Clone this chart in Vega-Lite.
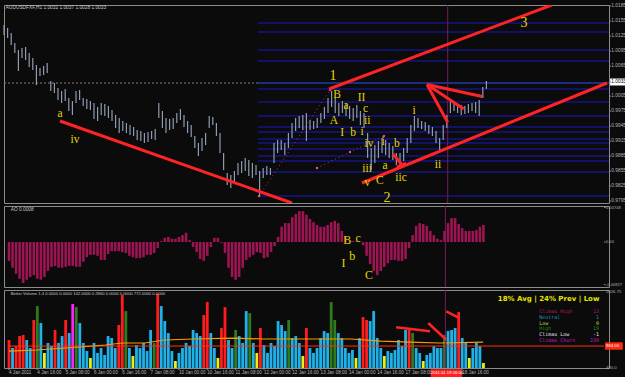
{
"$schema":"https://vega.github.io/schema/vega-lite/v6.json",
"background":"#0b0b0b",
"padding":{"left":2,"top":2,"right":0,"bottom":0},
"bounds":"flush",
"spacing":3,
"config":{"view":{"stroke":"#8c8c8c","strokeWidth":1}},
"datasets":{
"b":[
{"i":0,"h":1.0147,"l":1.0127,"a":-0.0041,"v":1056,"c":"ch"},
{"i":2,"h":1.0141,"l":1.0121,"a":-0.0056,"v":894,"c":"n"},
{"i":4,"h":1.0131,"l":1.0107,"a":-0.0069,"v":934,"c":"ch"},
{"i":6,"h":1.0111,"l":1.0091,"a":-0.0080,"v":1136,"c":"ch"},
{"i":8,"h":1.0097,"l":1.0055,"a":-0.0089,"v":1157,"c":"ch"},
{"i":10,"h":1.0101,"l":1.0081,"a":-0.0082,"v":1056,"c":"n"},
{"i":12,"h":1.0103,"l":1.0077,"a":-0.0076,"v":894,"c":"n"},
{"i":14,"h":1.0091,"l":1.0063,"a":-0.0072,"v":1460,"c":"ch"},
{"i":16,"h":1.0081,"l":1.0057,"a":-0.0080,"v":1742,"c":"hi"},
{"i":18,"h":1.0067,"l":1.0027,"a":-0.0082,"v":1399,"c":"n"},
{"i":20,"h":1.0061,"l":1.0045,"a":-0.0076,"v":793,"c":"lo"},
{"i":22,"h":1.0065,"l":1.0047,"a":-0.0063,"v":995,"c":"n"},
{"i":24,"h":1.0071,"l":1.0051,"a":-0.0054,"v":934,"c":"n"},
{"i":26,"h":1.0035,"l":1.0015,"a":-0.0052,"v":1258,"c":"ch"},
{"i":28,"h":1.0031,"l":1.0011,"a":-0.0056,"v":995,"c":"n"},
{"i":30,"h":1.0021,"l":0.9997,"a":-0.0056,"v":1136,"c":"n"},
{"i":32,"h":1.0015,"l":0.9991,"a":-0.0054,"v":1460,"c":"ch"},
{"i":34,"h":1.0019,"l":0.9995,"a":-0.0052,"v":1197,"c":"n"},
{"i":36,"h":1.0001,"l":0.9975,"a":-0.0052,"v":1783,"c":"cc"},
{"i":38,"h":0.9995,"l":0.9967,"a":-0.0054,"v":1722,"c":"hi"},
{"i":40,"h":1.0015,"l":0.9991,"a":-0.0054,"v":1399,"c":"n"},
{"i":42,"h":1.0017,"l":0.9997,"a":-0.0043,"v":995,"c":"n"},
{"i":44,"h":1.0001,"l":0.9985,"a":-0.0033,"v":833,"c":"n"},
{"i":46,"h":0.9999,"l":0.9979,"a":-0.0028,"v":692,"c":"lo"},
{"i":48,"h":0.9995,"l":0.9977,"a":-0.0028,"v":995,"c":"n"},
{"i":50,"h":0.9991,"l":0.9959,"a":-0.0030,"v":793,"c":"n"},
{"i":52,"h":0.9983,"l":0.9955,"a":-0.0039,"v":894,"c":"n"},
{"i":54,"h":0.9991,"l":0.9967,"a":-0.0039,"v":753,"c":"n"},
{"i":56,"h":0.9989,"l":0.9965,"a":-0.0026,"v":1136,"c":"n"},
{"i":58,"h":0.9985,"l":0.9961,"a":-0.0020,"v":1096,"c":"n"},
{"i":60,"h":0.9977,"l":0.9955,"a":-0.0020,"v":894,"c":"n"},
{"i":62,"h":0.9967,"l":0.9941,"a":-0.0020,"v":1359,"c":"ch"},
{"i":64,"h":0.9961,"l":0.9931,"a":-0.0022,"v":1965,"c":"ch"},
{"i":66,"h":0.9955,"l":0.9935,"a":-0.0024,"v":1641,"c":"hi"},
{"i":68,"h":0.9951,"l":0.9931,"a":-0.0030,"v":894,"c":"n"},
{"i":70,"h":0.9947,"l":0.9927,"a":-0.0033,"v":732,"c":"lo"},
{"i":72,"h":0.9943,"l":0.9925,"a":-0.0035,"v":955,"c":"n"},
{"i":74,"h":0.9937,"l":0.9917,"a":-0.0035,"v":894,"c":"n"},
{"i":76,"h":0.9935,"l":0.9915,"a":-0.0033,"v":995,"c":"n"},
{"i":78,"h":0.9931,"l":0.9911,"a":-0.0028,"v":833,"c":"n"},
{"i":80,"h":0.9933,"l":0.9913,"a":-0.0028,"v":1258,"c":"n"},
{"i":82,"h":0.9935,"l":0.9919,"a":-0.0024,"v":995,"c":"hi"},
{"i":84,"h":0.9939,"l":0.9917,"a":-0.0013,"v":1985,"c":"ch"},
{"i":86,"h":0.9991,"l":0.9961,"a":0.0002,"v":1742,"c":"n"},
{"i":88,"h":0.9975,"l":0.9941,"a":0.0009,"v":1439,"c":"n"},
{"i":90,"h":0.9961,"l":0.9931,"a":0.0011,"v":1197,"c":"n"},
{"i":92,"h":0.9959,"l":0.9937,"a":0.0007,"v":833,"c":"n"},
{"i":94,"h":0.9961,"l":0.9939,"a":0.0007,"v":631,"c":"lo"},
{"i":96,"h":0.9971,"l":0.9951,"a":0.0011,"v":793,"c":"n"},
{"i":98,"h":0.9979,"l":0.9957,"a":0.0015,"v":894,"c":"n"},
{"i":100,"h":0.9967,"l":0.9943,"a":0.0020,"v":995,"c":"n"},
{"i":102,"h":0.9955,"l":0.9931,"a":0.0004,"v":934,"c":"n"},
{"i":104,"h":0.9947,"l":0.9923,"a":-0.0011,"v":1258,"c":"n"},
{"i":106,"h":0.9925,"l":0.9901,"a":-0.0022,"v":1197,"c":"n"},
{"i":108,"h":0.9911,"l":0.9885,"a":-0.0037,"v":1136,"c":"n"},
{"i":110,"h":0.9921,"l":0.9895,"a":-0.0041,"v":1561,"c":"ch"},
{"i":112,"h":0.9931,"l":0.9907,"a":-0.0030,"v":1823,"c":"ch"},
{"i":114,"h":0.9965,"l":0.9941,"a":-0.0011,"v":1197,"c":"n"},
{"i":116,"h":0.9963,"l":0.9947,"a":0.0009,"v":894,"c":"n"},
{"i":118,"h":0.9951,"l":0.9925,"a":0.0009,"v":692,"c":"lo"},
{"i":120,"h":0.9931,"l":0.9891,"a":-0.0002,"v":1298,"c":"ch"},
{"i":122,"h":0.9891,"l":0.9857,"a":-0.0024,"v":1722,"c":"ch"},
{"i":124,"h":0.9851,"l":0.9827,"a":-0.0056,"v":1056,"c":"n"},
{"i":126,"h":0.9847,"l":0.9821,"a":-0.0076,"v":894,"c":"n"},
{"i":128,"h":0.9855,"l":0.9831,"a":-0.0082,"v":1258,"c":"hi"},
{"i":130,"h":0.9871,"l":0.9847,"a":-0.0076,"v":1136,"c":"n"},
{"i":132,"h":0.9875,"l":0.9851,"a":-0.0056,"v":995,"c":"n"},
{"i":134,"h":0.9881,"l":0.9855,"a":-0.0039,"v":1641,"c":"n"},
{"i":136,"h":0.9877,"l":0.9845,"a":-0.0033,"v":1601,"c":"hi"},
{"i":138,"h":0.9871,"l":0.9841,"a":-0.0028,"v":995,"c":"n"},
{"i":140,"h":0.9867,"l":0.9847,"a":-0.0022,"v":793,"c":"lo"},
{"i":142,"h":0.9855,"l":0.9805,"a":-0.0024,"v":1298,"c":"ch"},
{"i":144,"h":0.9861,"l":0.9841,"a":-0.0035,"v":955,"c":"n"},
{"i":146,"h":0.9865,"l":0.9847,"a":-0.0033,"v":793,"c":"n"},
{"i":148,"h":0.9861,"l":0.9847,"a":-0.0022,"v":995,"c":"n"},
{"i":150,"h":0.9911,"l":0.9871,"a":-0.0009,"v":934,"c":"n"},
{"i":152,"h":0.9917,"l":0.9891,"a":0.0011,"v":1439,"c":"n"},
{"i":154,"h":0.9917,"l":0.9897,"a":0.0033,"v":1359,"c":"n"},
{"i":156,"h":0.9911,"l":0.9887,"a":0.0041,"v":1237,"c":"n"},
{"i":158,"h":0.9931,"l":0.9901,"a":0.0041,"v":1460,"c":"hi"},
{"i":160,"h":0.9951,"l":0.9921,"a":0.0054,"v":1096,"c":"n"},
{"i":162,"h":0.9961,"l":0.9935,"a":0.0061,"v":1136,"c":"n"},
{"i":164,"h":0.9965,"l":0.9941,"a":0.0067,"v":995,"c":"n"},
{"i":166,"h":0.9967,"l":0.9937,"a":0.0067,"v":732,"c":"lo"},
{"i":168,"h":0.9971,"l":0.9915,"a":0.0059,"v":1298,"c":"ch"},
{"i":170,"h":0.9957,"l":0.9937,"a":0.0050,"v":894,"c":"n"},
{"i":172,"h":0.9955,"l":0.9939,"a":0.0043,"v":793,"c":"n"},
{"i":174,"h":0.9961,"l":0.9941,"a":0.0037,"v":894,"c":"n"},
{"i":176,"h":0.9971,"l":0.9951,"a":0.0033,"v":1096,"c":"n"},
{"i":178,"h":0.9983,"l":0.9959,"a":0.0033,"v":1237,"c":"n"},
{"i":180,"h":1.0001,"l":0.9971,"a":0.0037,"v":1197,"c":"n"},
{"i":182,"h":1.0015,"l":0.9983,"a":0.0043,"v":1823,"c":"hi"},
{"i":184,"h":1.0001,"l":0.9971,"a":0.0046,"v":1460,"c":"hi"},
{"i":186,"h":0.9991,"l":0.9965,"a":0.0041,"v":1197,"c":"n"},
{"i":188,"h":0.9995,"l":0.9971,"a":0.0024,"v":1096,"c":"n"},
{"i":190,"h":0.9991,"l":0.9965,"a":0.0011,"v":894,"c":"n"},
{"i":192,"h":0.9985,"l":0.9959,"a":0.0000,"v":793,"c":"n"},
{"i":194,"h":0.9981,"l":0.9955,"a":0.0002,"v":854,"c":"n"},
{"i":196,"h":0.9987,"l":0.9961,"a":0.0002,"v":692,"c":"lo"},
{"i":198,"h":0.9975,"l":0.9947,"a":0.0000,"v":1096,"c":"n"},
{"i":200,"h":0.9971,"l":0.9941,"a":-0.0007,"v":1520,"c":"ch"},
{"i":202,"h":0.9931,"l":0.9881,"a":-0.0030,"v":1460,"c":"ch"},
{"i":204,"h":0.9901,"l":0.9857,"a":-0.0048,"v":1439,"c":"n"},
{"i":206,"h":0.9907,"l":0.9871,"a":-0.0063,"v":1641,"c":"n"},
{"i":208,"h":0.9915,"l":0.9881,"a":-0.0072,"v":1096,"c":"n"},
{"i":210,"h":0.9921,"l":0.9891,"a":-0.0063,"v":894,"c":"n"},
{"i":212,"h":0.9917,"l":0.9887,"a":-0.0054,"v":732,"c":"lo"},
{"i":214,"h":0.9911,"l":0.9881,"a":-0.0046,"v":833,"c":"n"},
{"i":216,"h":0.9905,"l":0.9877,"a":-0.0039,"v":793,"c":"n"},
{"i":218,"h":0.9891,"l":0.9867,"a":-0.0039,"v":854,"c":"n"},
{"i":220,"h":0.9891,"l":0.9863,"a":-0.0041,"v":1056,"c":"n"},
{"i":222,"h":0.9901,"l":0.9875,"a":-0.0041,"v":934,"c":"n"},
{"i":224,"h":0.9921,"l":0.9891,"a":-0.0037,"v":1258,"c":"n"},
{"i":226,"h":0.9947,"l":0.9911,"a":-0.0013,"v":1258,"c":"ch"},
{"i":228,"h":0.9965,"l":0.9935,"a":0.0015,"v":1197,"c":"hi"},
{"i":230,"h":0.9961,"l":0.9941,"a":0.0035,"v":894,"c":"n"},
{"i":232,"h":0.9955,"l":0.9939,"a":0.0041,"v":793,"c":"n"},
{"i":234,"h":0.9953,"l":0.9935,"a":0.0039,"v":631,"c":"lo"},
{"i":236,"h":0.9947,"l":0.9929,"a":0.0035,"v":753,"c":"n"},
{"i":238,"h":0.9943,"l":0.9925,"a":0.0024,"v":793,"c":"n"},
{"i":240,"h":0.9935,"l":0.9911,"a":0.0015,"v":934,"c":"n"},
{"i":242,"h":0.9921,"l":0.9895,"a":0.0007,"v":894,"c":"n"},
{"i":244,"h":0.9947,"l":0.9917,"a":0.0004,"v":894,"c":"n"},
{"i":246,"h":0.9967,"l":0.9941,"a":0.0024,"v":1157,"c":"hi"},
{"i":248,"h":0.9997,"l":0.9971,"a":0.0041,"v":1237,"c":"n"},
{"i":250,"h":0.9993,"l":0.9975,"a":0.0052,"v":1258,"c":"n"},
{"i":252,"h":0.9989,"l":0.9971,"a":0.0052,"v":1298,"c":"n"},
{"i":254,"h":0.9987,"l":0.9967,"a":0.0039,"v":1621,"c":"ch"},
{"i":256,"h":0.9985,"l":0.9969,"a":0.0030,"v":1096,"c":"n"},
{"i":258,"h":0.9989,"l":0.9971,"a":0.0024,"v":995,"c":"n"},
{"i":260,"h":0.9991,"l":0.9975,"a":0.0024,"v":692,"c":"lo"},
{"i":262,"h":0.9993,"l":0.9971,"a":0.0024,"v":894,"c":"n"},
{"i":264,"h":0.9997,"l":0.9965,"a":0.0026,"v":995,"c":"n"},
{"i":266,"h":1.0023,"l":1.0001,"a":0.0033,"v":934,"c":"n"},
{"i":268,"h":1.0035,"l":1.0019,"a":0.0037,"v":591,"c":"lo"}
],
"fib":[{"p":1.0151},{"p":1.0133},{"p":1.0097},{"p":1.0075},{"p":1.0019},{"p":0.9993},{"p":0.9965},{"p":0.9943},{"p":0.9933},{"p":0.9919},{"p":0.9911},{"p":0.9899},{"p":0.9885},{"p":0.9875},{"p":0.9853},{"p":0.9805}],
"tl":[
{"g":"t1","i":31.1,"p":0.9955},{"g":"t1","i":160,"p":0.9791},
{"g":"t2","i":180.6,"p":1.0019},{"g":"t2","i":304.3,"p":1.0187},
{"g":"t3","i":198.9,"p":0.9831},{"g":"t3","i":335,"p":1.0031},
{"g":"f1","i":235,"p":1.0028},{"g":"f1","i":246.5,"p":0.9952},
{"g":"f2","i":235,"p":1.0028},{"g":"f2","i":255.4,"p":0.9979},
{"g":"f3","i":235,"p":1.0028},{"g":"f3","i":265.6,"p":1.0004},
{"g":"a1","i":216.1,"p":0.9889},{"g":"a1","i":221.7,"p":0.9865},
{"g":"a2","i":218.3,"p":0.9863},{"g":"a2","i":223.3,"p":0.9871}
],
"zz":[
{"g":"z1","i":141.7,"p":0.9805},{"g":"z1","i":181.1,"p":1.0017},
{"g":"z2","i":173.9,"p":0.9861},{"g":"z2","i":192.2,"p":0.9893},{"g":"z2","i":211.1,"p":0.9925}
],
"lab":[
{"t":"a","i":31.1,"p":0.9969},{"t":"iv","i":39.4,"p":0.9917},
{"t":"B","i":185,"p":1.0007},{"t":"a","i":190,"p":0.9985},{"t":"II","i":198.6,"p":1.0001},{"t":"c","i":200.8,"p":0.9980},{"t":"ii","i":201.8,"p":0.9956},
{"t":"A","i":183.3,"p":0.9955},{"t":"I","i":187.8,"p":0.9931},{"t":"b","i":193.9,"p":0.9931},{"t":"i","i":198.9,"p":0.9933},
{"t":"i","i":227.8,"p":0.9975},{"t":"i","i":210.6,"p":0.9913},{"t":"iv","i":202.8,"p":0.9909},{"t":"b","i":218.3,"p":0.9909},
{"t":"a","i":211.7,"p":0.9865},{"t":"iii","i":201.7,"p":0.9859},{"t":"v","i":201.8,"p":0.9831},{"t":"C","i":208.8,"p":0.9835},
{"t":"iic","i":220.6,"p":0.9841},{"t":"ii","i":241.1,"p":0.9867}
],
"num":[{"t":"1","i":182.8,"p":1.0045},{"t":"2","i":212.8,"p":0.9801},{"t":"3","i":288.9,"p":1.0151}],
"aol":[{"t":"B","i":191.1,"a":0.0004},{"t":"c","i":197.2,"a":0.0008},{"t":"b","i":193.9,"a":-0.0030},{"t":"I","i":188.9,"a":-0.0046},{"t":"C","i":203.3,"a":-0.0072}],
"ma":[{"i":0,"m":833},{"i":15.6,"m":854},{"i":32.2,"m":894},{"i":54.4,"m":955},{"i":63.9,"m":995},{"i":76.7,"m":995},{"i":87.8,"m":1056},{"i":104.4,"m":1076},{"i":126.7,"m":1096},{"i":143.3,"m":1076},{"i":176.7,"m":1076},{"i":193.3,"m":1076},{"i":210,"m":1035},{"i":226.7,"m":1015},{"i":243.3,"m":995},{"i":267.8,"m":1015}],
"vl":[
{"g":"v1","i":218.7,"v":1312},{"g":"v1","i":237.8,"v":1231},
{"g":"v2","i":236.8,"v":1399},{"g":"v2","i":247,"v":1062},
{"g":"v3","i":247,"v":1635},{"g":"v3","i":254.4,"v":1500}
],
"leg":[
{"t":"Climax High","n":"13","v":1641},
{"t":"Neutral","n":"1","v":1520},
{"t":"Low","n":"0","v":1399},
{"t":"High","n":"19","v":1298},
{"t":"Climax Low","n":"-1","v":1177},
{"t":"Climax Churn","n":"230","v":1056}
],
"py":[{"p":0.9795,"t":"0.9795"},{"p":0.9825,"t":"0.9825"},{"p":0.9855,"t":"0.9855"},{"p":0.9885,"t":"0.9885"},{"p":0.9915,"t":"0.9915"},{"p":0.9945,"t":"0.9945"},{"p":0.9975,"t":"0.9975"},{"p":1.0005,"t":"1.0005"},{"p":1.0033,"t":"1.0033"},{"p":1.0065,"t":"1.0065"},{"p":1.0095,"t":"1.0095"},{"p":1.0125,"t":"1.0125"},{"p":1.0155,"t":"1.0155"},{"p":1.0185,"t":"1.0185"}],
"ay":[{"a":0.00748,"t":"0.00748"},{"a":0,"t":"0.00"},{"a":-0.00927,"t":"-0.00927"}],
"vy":[{"v":2026.75,"t":"2026.75"},{"v":934,"t":"934.00"},{"v":490,"t":"490.0"}],
"xt":[{"i":0,"t":"4 Jan 2011"},{"i":16,"t":"4 Jan 16:00"},{"i":32,"t":"5 Jan 08:00"},{"i":48,"t":"6 Jan 00:00"},{"i":64,"t":"6 Jan 16:00"},{"i":80,"t":"7 Jan 08:00"},{"i":96,"t":"10 Jan 00:00"},{"i":112,"t":"10 Jan 16:00"},{"i":128,"t":"11 Jan 08:00"},{"i":144,"t":"12 Jan 00:00"},{"i":160,"t":"12 Jan 16:00"},{"i":176,"t":"13 Jan 08:00"},{"i":192,"t":"14 Jan 00:00"},{"i":208,"t":"14 Jan 16:00"},{"i":224,"t":"17 Jan 08:00"},{"i":256,"t":"18 Jan 16:00"}]
},
"vconcat":[
{
"width":605,"height":198,
"layer":[
{"data":{"name":"fib"},"mark":{"type":"rule","color":"#1818c0","strokeWidth":1},
 "encoding":{"x":{"datum":141,"type":"quantitative","scale":{"domain":[0,336.1],"nice":false,"zero":false},"axis":null},"x2":{"datum":336.1},
 "y":{"field":"p","type":"quantitative","scale":{"domain":[0.9791,1.0187],"nice":false,"zero":false},"axis":null}}},
{"data":{"values":[{}]},"mark":{"type":"rule","color":"#808080","strokeDash":[2,2],"strokeWidth":1},
 "encoding":{"x":{"datum":0,"type":"quantitative","scale":{"domain":[0,336.1],"nice":false,"zero":false},"axis":null},"x2":{"datum":141},"y":{"datum":1.0031,"type":"quantitative","scale":{"domain":[0.9791,1.0187],"nice":false,"zero":false},"axis":null}}},
{"data":{"values":[{}]},"mark":{"type":"rule","color":"#3050ff","strokeWidth":1},
 "encoding":{"x":{"datum":141,"type":"quantitative","scale":{"domain":[0,336.1],"nice":false,"zero":false},"axis":null},"x2":{"datum":336.1},"y":{"datum":1.0031,"type":"quantitative","scale":{"domain":[0.9791,1.0187],"nice":false,"zero":false},"axis":null}}},
{"data":{"values":[{}]},"mark":{"type":"rule","color":"#7a1a5e","strokeWidth":1},
 "encoding":{"x":{"datum":246.5,"type":"quantitative","scale":{"domain":[0,336.1],"nice":false,"zero":false},"axis":null}}},
{"data":{"name":"zz"},"mark":{"type":"line","color":"#c03070","strokeWidth":1,"strokeDash":[1,3],"point":{"filled":true,"size":6,"color":"#e05090"}},
 "encoding":{"x":{"field":"i","type":"quantitative","scale":{"domain":[0,336.1],"nice":false,"zero":false},"axis":null},"y":{"field":"p","type":"quantitative","scale":{"domain":[0.9791,1.0187],"nice":false,"zero":false},"axis":null},"detail":{"field":"g"}}},
{"data":{"name":"b"},"mark":{"type":"rule","color":"#8e9cb0","strokeWidth":1.2},
 "encoding":{"x":{"field":"i","type":"quantitative","scale":{"domain":[0,336.1],"nice":false,"zero":false},"axis":null},"y":{"field":"h","type":"quantitative","scale":{"domain":[0.9791,1.0187],"nice":false,"zero":false},"axis":null},"y2":{"field":"l"}}},
{"data":{"name":"tl"},"mark":{"type":"line","color":"#ff2424","strokeWidth":3,"clip":true},
 "encoding":{"x":{"field":"i","type":"quantitative","scale":{"domain":[0,336.1],"nice":false,"zero":false},"axis":null},"y":{"field":"p","type":"quantitative","scale":{"domain":[0.9791,1.0187],"nice":false,"zero":false},"axis":null},"detail":{"field":"g"}}},
{"data":{"name":"lab"},"mark":{"type":"text","font":"Liberation Serif","fontSize":11.5,"color":"#e2d800"},
 "encoding":{"x":{"field":"i","type":"quantitative","scale":{"domain":[0,336.1],"nice":false,"zero":false},"axis":null},"y":{"field":"p","type":"quantitative","scale":{"domain":[0.9791,1.0187],"nice":false,"zero":false},"axis":null},"text":{"field":"t"}}},
{"data":{"name":"num"},"mark":{"type":"text","font":"Liberation Serif","fontSize":14,"color":"#e2d800"},
 "encoding":{"x":{"field":"i","type":"quantitative","scale":{"domain":[0,336.1],"nice":false,"zero":false},"axis":null},"y":{"field":"p","type":"quantitative","scale":{"domain":[0.9791,1.0187],"nice":false,"zero":false},"axis":null},"text":{"field":"t"}}},
{"data":{"values":[{"t":"AUDUSDFXF,H1  1.0032 1.0037 1.0028 1.0033"}]},"mark":{"type":"text","font":"Liberation Sans","fontSize":4.8,"color":"#c8c8c8","align":"left","baseline":"middle"},
 "encoding":{"x":{"datum":1,"type":"quantitative","scale":{"domain":[0,336.1],"nice":false,"zero":false},"axis":null},"y":{"datum":1.0182,"type":"quantitative","scale":{"domain":[0.9791,1.0187],"nice":false,"zero":false},"axis":null},"text":{"field":"t"}}},
{"data":{"values":[{}]},"mark":{"type":"rect","color":"#ffffff"},
 "encoding":{"x":{"datum":336.7,"type":"quantitative","scale":{"domain":[0,336.1],"nice":false,"zero":false},"axis":null},"x2":{"datum":346.7},"y":{"datum":1.0026,"type":"quantitative","scale":{"domain":[0.9791,1.0187],"nice":false,"zero":false},"axis":null},"y2":{"datum":1.0040}}},
{"data":{"name":"py"},"mark":{"type":"text","font":"Liberation Sans","fontSize":4.8,"align":"left","baseline":"middle"},
 "encoding":{"x":{"datum":337.4,"type":"quantitative","scale":{"domain":[0,336.1],"nice":false,"zero":false},"axis":null},"y":{"field":"p","type":"quantitative","scale":{"domain":[0.9791,1.0187],"nice":false,"zero":false},"axis":null},"text":{"field":"t"},
 "color":{"condition":{"test":"datum.p==1.0033","value":"#000000"},"value":"#b4b4b4"}}},
{"data":{"name":"py"},"mark":{"type":"rule","color":"#8c8c8c"},
 "encoding":{"x":{"datum":336.1,"type":"quantitative","scale":{"domain":[0,336.1],"nice":false,"zero":false},"axis":null},"x2":{"datum":337.2},"y":{"field":"p","type":"quantitative","scale":{"domain":[0.9791,1.0187],"nice":false,"zero":false},"axis":null}}}
]
},
{
"width":605,"height":81,
"layer":[
{"data":{"name":"b"},"mark":{"type":"bar","color":"#9c1452","size":2.6},
 "encoding":{"x":{"field":"i","type":"quantitative","scale":{"domain":[0,336.1],"nice":false,"zero":false},"axis":null},"y":{"field":"a","type":"quantitative","scale":{"domain":[-0.00977,0.00781],"nice":false,"zero":false},"axis":null},"y2":{"datum":0}}},
{"data":{"values":[{}]},"mark":{"type":"rule","color":"#7a1a5e","strokeWidth":1},
 "encoding":{"x":{"datum":246.5,"type":"quantitative","scale":{"domain":[0,336.1],"nice":false,"zero":false},"axis":null}}},
{"data":{"name":"aol"},"mark":{"type":"text","font":"Liberation Serif","fontSize":12,"color":"#e2d800"},
 "encoding":{"x":{"field":"i","type":"quantitative","scale":{"domain":[0,336.1],"nice":false,"zero":false},"axis":null},"y":{"field":"a","type":"quantitative","scale":{"domain":[-0.00977,0.00781],"nice":false,"zero":false},"axis":null},"text":{"field":"t"}}},
{"data":{"values":[{"t":"AO 0.0008"}]},"mark":{"type":"text","font":"Liberation Sans","fontSize":4.8,"color":"#c8c8c8","align":"left","baseline":"middle"},
 "encoding":{"x":{"datum":1,"type":"quantitative","scale":{"domain":[0,336.1],"nice":false,"zero":false},"axis":null},"y":{"datum":0.0069,"type":"quantitative","scale":{"domain":[-0.00977,0.00781],"nice":false,"zero":false},"axis":null},"text":{"field":"t"}}},
{"data":{"name":"ay"},"mark":{"type":"text","font":"Liberation Sans","fontSize":4.1,"color":"#b4b4b4","align":"left","baseline":"middle"},
 "encoding":{"x":{"datum":337.2,"type":"quantitative","scale":{"domain":[0,336.1],"nice":false,"zero":false},"axis":null},"y":{"field":"a","type":"quantitative","scale":{"domain":[-0.00977,0.00781],"nice":false,"zero":false},"axis":null},"text":{"field":"t"}}},
{"data":{"name":"ay"},"mark":{"type":"rule","color":"#8c8c8c"},
 "encoding":{"x":{"datum":336.1,"type":"quantitative","scale":{"domain":[0,336.1],"nice":false,"zero":false},"axis":null},"x2":{"datum":337},"y":{"field":"a","type":"quantitative","scale":{"domain":[-0.00977,0.00781],"nice":false,"zero":false},"axis":null}}}
]
},
{
"width":605,"height":78,
"resolve":{"scale":{"color":"independent"}},
"layer":[
{"data":{"name":"b"},"mark":{"type":"bar","size":2.8},
 "encoding":{"x":{"field":"i","type":"quantitative","scale":{"domain":[0,336.1],"nice":false,"zero":false},"axis":null},"y":{"field":"v","type":"quantitative","scale":{"domain":[490,2067],"nice":false,"zero":false},"axis":null},
 "y2":{"datum":490},
 "color":{"field":"c","type":"nominal","scale":{"domain":["n","ch","lo","hi","cc"],"range":["#1fb2ea","#ff1c1c","#eeee10","#2f7a1e","#ff22ff"]},"legend":null}}},
{"data":{"values":[{}]},"mark":{"type":"rule","color":"#ff3010","strokeWidth":1},
 "encoding":{"x":{"datum":0,"type":"quantitative","scale":{"domain":[0,336.1],"nice":false,"zero":false},"axis":null},"x2":{"datum":336.1},"y":{"datum":934,"type":"quantitative","scale":{"domain":[490,2067],"nice":false,"zero":false},"axis":null}}},
{"data":{"name":"ma"},"mark":{"type":"line","color":"#ff9a00","strokeWidth":1.2},
 "encoding":{"x":{"field":"i","type":"quantitative","scale":{"domain":[0,336.1],"nice":false,"zero":false},"axis":null},"y":{"field":"m","type":"quantitative","scale":{"domain":[490,2067],"nice":false,"zero":false},"axis":null}}},
{"data":{"values":[{}]},"mark":{"type":"rule","color":"#7a1a5e","strokeWidth":1},
 "encoding":{"x":{"datum":246.5,"type":"quantitative","scale":{"domain":[0,336.1],"nice":false,"zero":false},"axis":null}}},
{"data":{"name":"vl"},"mark":{"type":"line","color":"#ff2424","strokeWidth":2.5},
 "encoding":{"x":{"field":"i","type":"quantitative","scale":{"domain":[0,336.1],"nice":false,"zero":false},"axis":null},"y":{"field":"v","type":"quantitative","scale":{"domain":[490,2067],"nice":false,"zero":false},"axis":null},"detail":{"field":"g"}}},
{"data":{"values":[{"t":"Better Volume 1.4 0.0000 0.0000 142.0000 0.2860 0.0000 0.0000 772.0000 0.0000"}]},"mark":{"type":"text","font":"Liberation Sans","fontSize":4.2,"color":"#c8c8c8","align":"left","baseline":"middle"},
 "encoding":{"x":{"datum":1,"type":"quantitative","scale":{"domain":[0,336.1],"nice":false,"zero":false},"axis":null},"y":{"datum":1985,"type":"quantitative","scale":{"domain":[490,2067],"nice":false,"zero":false},"axis":null},"text":{"field":"t"}}},
{"data":{"values":[{"t":"18% Avg | 24% Prev | Low"}]},"mark":{"type":"text","font":"DejaVu Sans","fontSize":7,"fontWeight":"bold","color":"#e6e600","align":"right","baseline":"middle"},
 "encoding":{"x":{"datum":333.5,"type":"quantitative","scale":{"domain":[0,336.1],"nice":false,"zero":false},"axis":null},"y":{"datum":1884,"type":"quantitative","scale":{"domain":[490,2067],"nice":false,"zero":false},"axis":null},"text":{"field":"t"}}},
{"data":{"name":"leg"},"mark":{"type":"text","font":"DejaVu Sans Mono","fontSize":5,"align":"left","baseline":"middle"},
 "encoding":{"x":{"datum":299.5,"type":"quantitative","scale":{"domain":[0,336.1],"nice":false,"zero":false},"axis":null},"y":{"field":"v","type":"quantitative","scale":{"domain":[490,2067],"nice":false,"zero":false},"axis":null},"text":{"field":"t"},
 "color":{"field":"t","type":"nominal","scale":{"domain":["Climax High","Neutral","Low","High","Climax Low","Climax Churn"],"range":["#b01a5a","#1c8cc0","#c8c850","#1f8a1f","#e0e0e0","#c01ec0"]},"legend":null}}},
{"data":{"name":"leg"},"mark":{"type":"text","font":"DejaVu Sans Mono","fontSize":5,"align":"right","baseline":"middle"},
 "encoding":{"x":{"datum":333.3,"type":"quantitative","scale":{"domain":[0,336.1],"nice":false,"zero":false},"axis":null},"y":{"field":"v","type":"quantitative","scale":{"domain":[490,2067],"nice":false,"zero":false},"axis":null},"text":{"field":"n"},
 "color":{"field":"t","type":"nominal","scale":{"domain":["Climax High","Neutral","Low","High","Climax Low","Climax Churn"],"range":["#b01a5a","#1c8cc0","#c8c850","#1f8a1f","#e0e0e0","#c01ec0"]},"legend":null}}},
{"data":{"values":[{}]},"mark":{"type":"rect","color":"#ff2a10"},
 "encoding":{"x":{"datum":336.7,"type":"quantitative","scale":{"domain":[0,336.1],"nice":false,"zero":false},"axis":null},"x2":{"datum":346.7},"y":{"datum":859,"type":"quantitative","scale":{"domain":[490,2067],"nice":false,"zero":false},"axis":null},"y2":{"datum":1009}}},
{"data":{"name":"vy"},"mark":{"type":"text","font":"Liberation Sans","fontSize":4.3,"align":"left","baseline":"middle"},
 "encoding":{"x":{"datum":337.2,"type":"quantitative","scale":{"domain":[0,336.1],"nice":false,"zero":false},"axis":null},"y":{"field":"v","type":"quantitative","scale":{"domain":[490,2067],"nice":false,"zero":false},"axis":null},"text":{"field":"t"},
 "color":{"condition":{"test":"datum.v==934","value":"#ffffff"},"value":"#b4b4b4"}}},
{"data":{"name":"xt"},"mark":{"type":"rule","color":"#8c8c8c"},
 "encoding":{"x":{"field":"i","type":"quantitative","scale":{"domain":[0,336.1],"nice":false,"zero":false},"axis":null},"y":{"datum":490,"type":"quantitative","scale":{"domain":[490,2067],"nice":false,"zero":false},"axis":null},"y2":{"datum":450}}},
{"data":{"name":"xt"},"mark":{"type":"text","font":"Liberation Sans","fontSize":4.6,"color":"#b4b4b4","align":"left","baseline":"middle"},
 "encoding":{"x":{"field":"i","type":"quantitative","scale":{"domain":[0,336.1],"nice":false,"zero":false},"axis":null},"y":{"datum":385,"type":"quantitative","scale":{"domain":[490,2067],"nice":false,"zero":false},"axis":null},"text":{"field":"t"}}},
{"data":{"values":[{}]},"mark":{"type":"rect","color":"#ff2020"},
 "encoding":{"x":{"datum":238.2,"type":"quantitative","scale":{"domain":[0,336.1],"nice":false,"zero":false},"axis":null},"x2":{"datum":256},"y":{"datum":465,"type":"quantitative","scale":{"domain":[490,2067],"nice":false,"zero":false},"axis":null},"y2":{"datum":300}}},
{"data":{"values":[{"t":"2011.01.18 06:00"}]},"mark":{"type":"text","font":"Liberation Sans","fontSize":4.2,"color":"#ffffff","align":"center","baseline":"middle"},
 "encoding":{"x":{"datum":247.4,"type":"quantitative","scale":{"domain":[0,336.1],"nice":false,"zero":false},"axis":null},"y":{"datum":385,"type":"quantitative","scale":{"domain":[490,2067],"nice":false,"zero":false},"axis":null},"text":{"field":"t"}}}
]
}
]
}
